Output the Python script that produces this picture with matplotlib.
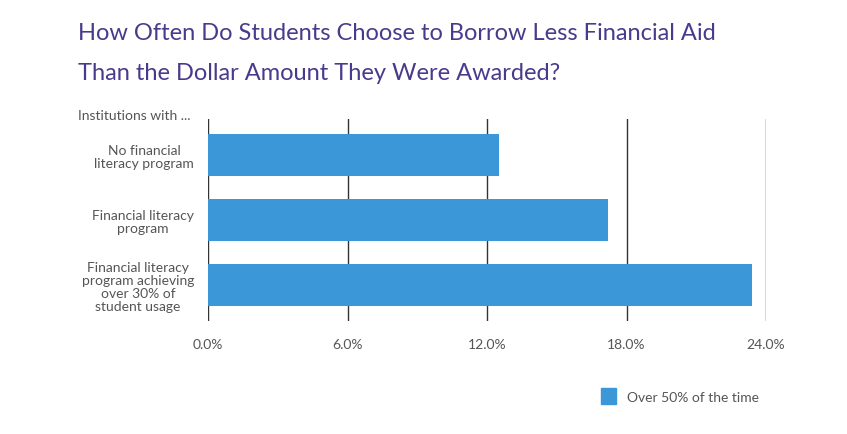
import matplotlib.pyplot as plt
from matplotlib.patches import Patch

plt.rcParams['font.family'] = ['Lato', 'DejaVu Sans']

categories = ["No financial\nliteracy program",
              "Financial literacy\nprogram",
              "Financial literacy\nprogram achieving\nover 30% of\nstudent usage"]
values = [12.5, 17.2, 23.4]
ticks = [0, 6, 12, 18, 24]
tick_labels = ["0.0%", "6.0%", "12.0%", "18.0%", "24.0%"]
bar_color = "#3c97d8"

fig = plt.figure(figsize=(8.47, 4.35), dpi=100)
ax = fig.add_axes([208/847, 1-322/435, (766-208)/847, (322-120)/435])

y = [0, 1, 2]
ax.barh(y, values, height=0.65, color=bar_color, zorder=3)
ax.set_ylim(2.55, -0.55)
ax.set_xlim(0, 24)
ax.set_xticks(ticks)
ax.set_xticklabels(tick_labels, fontsize=10, color="#555555")
ax.set_yticks(y)
ax.set_yticklabels(categories, fontsize=10, color="#555555", linespacing=1.1)
ax.tick_params(length=0, pad=12)
ax.tick_params(axis='y', pad=10)
for t in ax.get_yticklabels():
    t.set_horizontalalignment('right')
    t.set_multialignment('center')
ax.grid(axis='x', color="#333333", linewidth=1, zorder=0)
for s in ax.spines.values():
    s.set_visible(False)

fig.text(78/847, 1-33/435, "How Often Do Students Choose to Borrow Less Financial Aid",
         fontsize=17, color="#4a3a8c", va='center')
fig.text(78/847, 1-73/435, "Than the Dollar Amount They Were Awarded?",
         fontsize=17, color="#4a3a8c", va='center')
fig.text(78/847, 1-116/435, "Institutions with ...", fontsize=10, color="#555555", va='center')

fig.legend(handles=[Patch(color=bar_color, label="Over 50% of the time")],
           loc='center left', bbox_to_anchor=(588/847, 1-397/435), frameon=False,
           fontsize=10, labelcolor="#555555", handlelength=1.1, handleheight=1.3)

fig.savefig("out.png", dpi=100)
